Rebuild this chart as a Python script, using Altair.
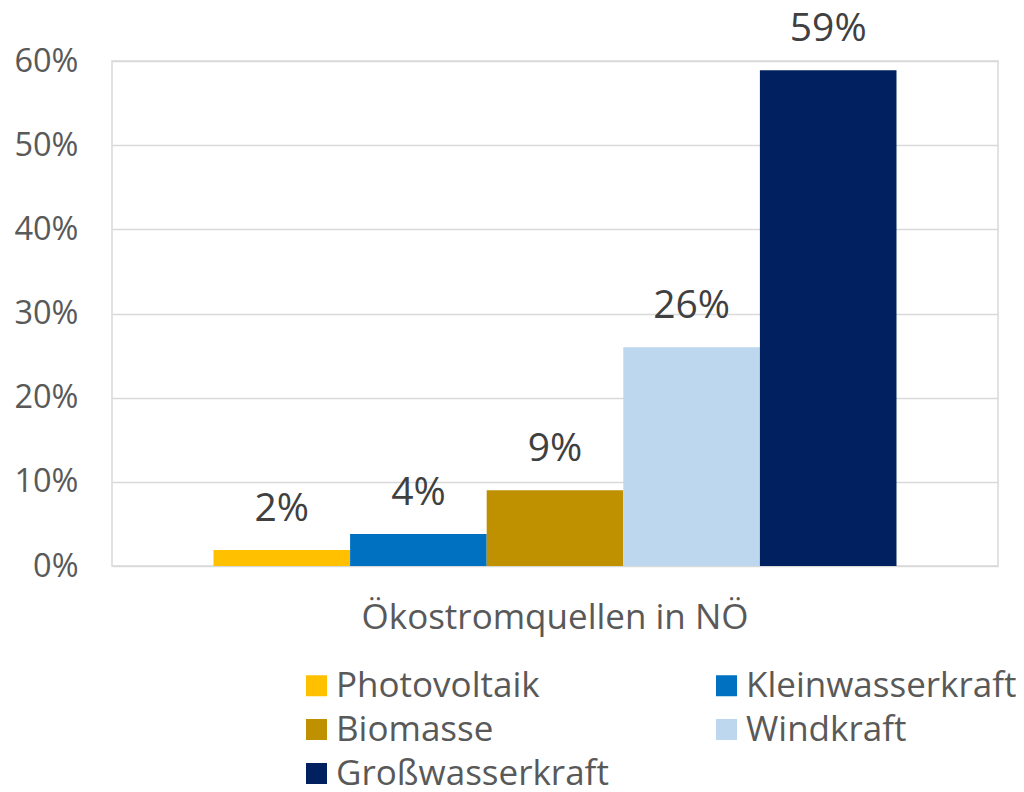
import altair as alt
import pandas as pd

category = ["Ökostromquellen in NÖ"] * 5
sources = ["Photovoltaik", "Kleinwasserkraft", "Biomasse", "Windkraft", "Großwasserkraft"]
shares = [0.019, 0.038, 0.090, 0.260, 0.589]
colors = ["#FFC000", "#0070C0", "#BF9000", "#BDD7EE", "#002060"]
y_ticks = [0, 0.1, 0.2, 0.3, 0.4, 0.5, 0.6]

# legend fills column by column; this order shows the entries row by row
legend_order = ["Photovoltaik", "Biomasse", "Großwasserkraft", "Kleinwasserkraft", "Windkraft"]
legend_colors = [colors[sources.index(s)] for s in legend_order]

df = pd.DataFrame({"cat": category, "source": sources, "share": shares})

FONT = "Open Sans"

base = alt.Chart(df).encode(
    x=alt.X("cat:N", title=None,
            scale=alt.Scale(paddingInner=0, paddingOuter=0.1486),
            axis=alt.Axis(labelAngle=0, ticks=False, domain=False, labelFontSize=35,
                          labelColor="#595959", labelPadding=34, labelFont=FONT,
                          labelLimit=800)),
    xOffset=alt.XOffset("source:N", sort=sources,
                        scale=alt.Scale(paddingInner=0, paddingOuter=0)),
)

bars = base.mark_bar().encode(
    y=alt.Y("share:Q", title=None,
            scale=alt.Scale(domain=[0, 0.6], nice=False),
            axis=alt.Axis(values=y_ticks, format=".0%", ticks=False, domain=False,
                          gridColor="#d9d9d9", gridWidth=1.5, labelFontSize=32.5,
                          labelColor="#595959", labelPadding=34, labelFont=FONT)),
    color=alt.Color("source:N", sort=legend_order,
                    scale=alt.Scale(domain=legend_order, range=legend_colors),
                    legend=alt.Legend(title=None, orient="none", legendX=187, legendY=607,
                                      columns=2, symbolType="square", symbolSize=441,
                                      symbolStrokeWidth=0, labelFontSize=35,
                                      labelColor="#595959", labelFont=FONT,
                                      labelOffset=2, rowPadding=8, columnPadding=100,
                                      padding=0, labelLimit=500)),
)

labels = base.mark_text(baseline="alphabetic", dy=-29, fontSize=39, color="#404040",
                        font=FONT).encode(
    y=alt.Y("share:Q"),
    text=alt.Text("share:Q", format=".0%"),
)

chart = (bars + labels).properties(
    width=886, height=505,
    autosize=alt.AutoSizeParams(type="none"),
    padding={"left": 104, "top": 53, "right": 18, "bottom": 222},
).configure_view(stroke="#d9d9d9", strokeWidth=1.5)

chart.save("out.html", embed_options={"renderer": "svg", "actions": False})
